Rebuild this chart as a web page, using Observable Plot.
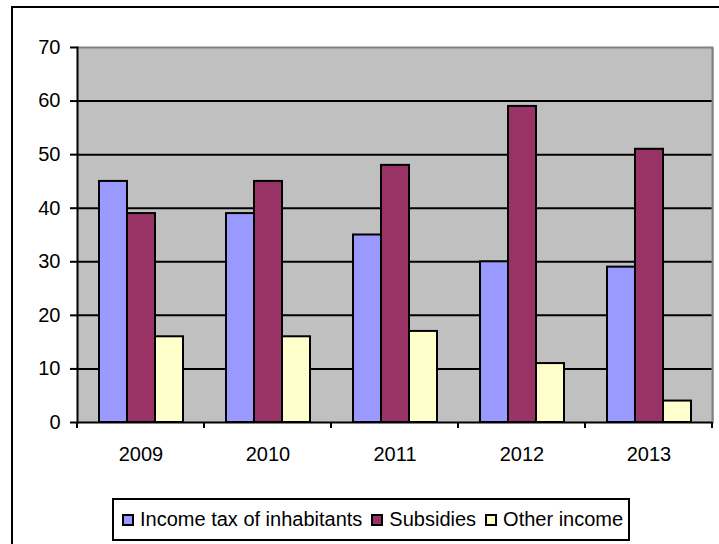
<!DOCTYPE html>
<html>
<head>
<meta charset="utf-8">
<script src="https://cdn.jsdelivr.net/npm/d3@7"></script>
<script src="https://cdn.jsdelivr.net/npm/@observablehq/plot@0.6"></script>
<style>
  html, body { margin: 0; padding: 0; background: #fff; }
  body { position: relative; width: 719px; height: 544px; overflow: hidden; font-family: "Liberation Sans", Arial, sans-serif; }
  #outer { position: absolute; left: 11px; top: 6px; width: 900px; height: 800px; border-left: 2px solid #000; border-top: 2px solid #000; box-sizing: border-box; }
  #chart { position: absolute; left: 0; top: 0; }
  #legend { position: absolute; left: 112px; top: 498px; width: 518px; height: 43px; box-sizing: border-box; border: 2px solid #000; display: flex; align-items: center; padding-left: 8px; font-size: 20px; color: #000; white-space: nowrap; }
  .item { display: flex; align-items: center; margin-right: 9px; }
  .sw { width: 12px; height: 12px; box-sizing: border-box; border: 2px solid #000; margin-right: 6px; }
</style>
</head>
<body>
<div id="outer"></div>
<div id="chart"></div>
<div id="legend"></div>
<script>
const years = ["2009", "2010", "2011", "2012", "2013"];
const seriesNames = ["Income tax of inhabitants", "Subsidies", "Other income"];
const incomeTax = [45, 39, 35, 30, 29];
const subsidies = [39, 45, 48, 59, 51];
const otherIncome = [16, 16, 17, 11, 4];
const seriesColors = ["#9999FF", "#993366", "#FFFFCC"];
const yTicks = [0, 10, 20, 30, 40, 50, 60, 70];
const gridValues = [10, 20, 30, 40, 50, 60];

const seriesValues = [incomeTax, subsidies, otherIncome];
const data = [];
years.forEach((yr, i) => {
  seriesNames.forEach((s, j) => data.push({year: yr, series: s, value: seriesValues[j][i]}));
});

const plot = Plot.plot({
  width: 719,
  height: 475,
  marginTop: 47,
  marginBottom: 53,
  marginLeft: 77,
  marginRight: 7,
  style: {fontFamily: "'Liberation Sans', Arial, sans-serif", fontSize: "20px", color: "#000", background: "transparent"},
  fx: {domain: years, padding: 0, label: null},
  x: {domain: seriesNames, paddingInner: 0, paddingOuter: 0.74, axis: null},
  y: {domain: [0, 70], label: null},
  color: {domain: seriesNames, range: seriesColors},
  marks: [
    Plot.frame({fill: "#C0C0C0", stroke: "none", insetLeft: -1, insetRight: -1, shapeRendering: "crispEdges"}),
    Plot.ruleY(gridValues, {stroke: "#000", strokeWidth: 2}),
    Plot.ruleY([70], {stroke: "#808080", strokeWidth: 2}),
    Plot.frame({anchor: "right", facetAnchor: "right", stroke: "#808080", strokeWidth: 2}),
    Plot.barY(data, {fx: "year", x: "series", y: "value", fill: "series", stroke: "#000", strokeWidth: 2, inset: 0}),
    Plot.ruleY([0], {stroke: "#000", strokeWidth: 2}),
    Plot.frame({anchor: "left", facetAnchor: "left", stroke: "#000", strokeWidth: 2}),
    Plot.axisY(yTicks, {anchor: "left", tickSize: 7, tickPadding: 10, strokeWidth: 2, stroke: "#000", label: null, fontSize: 20}),
    Plot.axisFx({anchor: "bottom", tickSize: 0, tickPadding: 24, label: null, fontSize: 20})
  ]
});
document.getElementById("chart").appendChild(plot);

// category boundary ticks, placed with the library's fx and y scales
const fx = plot.scale("fx");
const ys = plot.scale("y");
const y0 = ys.apply(0);
const bounds = years.map(y => fx.apply(y));
bounds.push(fx.apply(years[years.length - 1]) + fx.bandwidth);
const svg = d3.select(plot);
svg.append("g").selectAll("line").data(bounds).join("line")
  .attr("x1", d => d).attr("x2", d => d)
  .attr("y1", y0).attr("y2", y0 + 6)
  .attr("stroke", "#000").attr("stroke-width", 2);

// legend
const legend = d3.select("#legend");
seriesNames.forEach((s, j) => {
  const it = legend.append("div").attr("class", "item");
  it.append("div").attr("class", "sw").style("background", seriesColors[j]);
  it.append("span").text(s);
});
</script>
</body>
</html>
